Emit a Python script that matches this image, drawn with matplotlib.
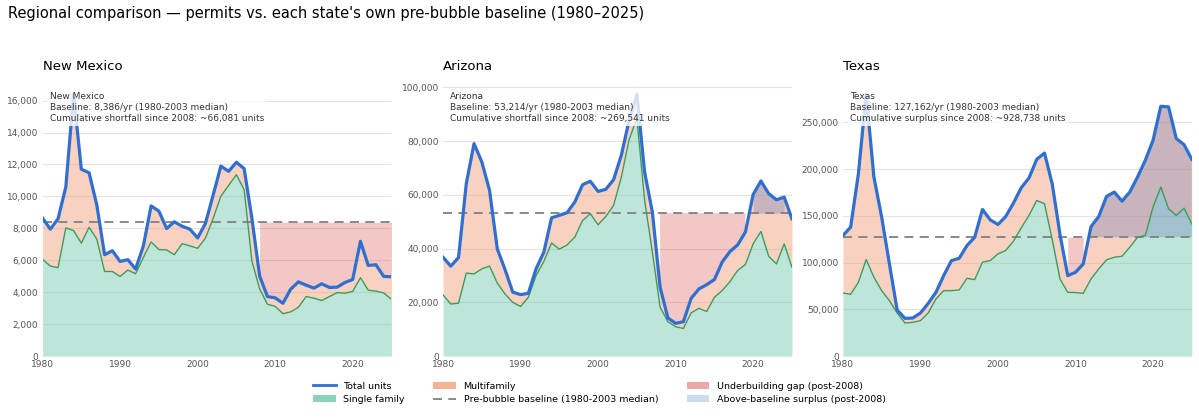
import numpy as np
import matplotlib
matplotlib.use("Agg")
import matplotlib.pyplot as plt
from matplotlib.ticker import FuncFormatter, MultipleLocator
from matplotlib.patches import Patch
from matplotlib.lines import Line2D

years = list(range(1980, 2026))
states = ["New Mexico", "Arizona", "Texas"]

nm_total = [8650, 7950, 8600, 10600, 16400, 11700, 11480, 9450, 6350, 6600,
            5930, 6040, 5450, 6900, 9410, 9080, 7990, 8410, 8130, 7950,
            7400, 8300, 10080, 11900, 11570, 12140, 11740, 8620, 5010, 3730,
            3650, 3310, 4190, 4650, 4440, 4260, 4530, 4300, 4320, 4610,
            4800, 7190, 5680, 5720, 4990, 4970]
nm_single = [6060, 5640, 5540, 8030, 7860, 7070, 8070, 7320, 5300, 5300,
             4990, 5390, 5160, 6180, 7150, 6670, 6650, 6350, 7040, 6900,
             6750, 7380, 8620, 10020, 10690, 11360, 10420, 5950, 4210, 3250,
             3120, 2660, 2770, 3060, 3730, 3630, 3480, 3730, 3980, 3940,
             4050, 4910, 4130, 4070, 3960, 3560]

az_total = [36800, 33500, 36700, 64200, 79100, 72300, 61700, 39900, 32200, 23800,
            22900, 23400, 32500, 38700, 51500, 52400, 53400, 57400, 63800, 65100,
            61300, 62100, 65700, 74800, 87800, 97500, 68500, 53600, 25600, 14200,
            12200, 12800, 21500, 25000, 26600, 28500, 35000, 38900, 41400, 46200,
            60200, 65200, 60500, 58200, 59200, 51100]
az_single = [22800, 19400, 19700, 30900, 30600, 32500, 33500, 27200, 23100, 20000,
             18500, 21900, 30000, 35200, 42100, 39800, 41400, 44300, 50500, 53000,
             48900, 52000, 56100, 66700, 80600, 88500, 58000, 38700, 18200, 12800,
             10950, 10300, 16100, 17800, 16600, 21900, 24400, 27700, 31900, 34100,
             41800, 46400, 37200, 34300, 41800, 33100]

tx_total = [128900, 137900, 195000, 280000, 191400, 148600, 98600, 49300, 40400, 40700,
            46100, 56400, 68200, 86100, 102100, 104600, 118200, 127100, 156800, 145700,
            140700, 149300, 163600, 180000, 190400, 210400, 217100, 184000, 130000, 86000,
            89600, 98600, 138500, 149300, 170700, 175400, 165700, 175400, 191400, 209300,
            230700, 267100, 266400, 232500, 226100, 210400]
tx_single = [67500, 66100, 78900, 103200, 84300, 70000, 59300, 46100, 35400, 36100,
             37900, 46100, 61100, 70000, 70000, 70700, 83200, 81800, 100400, 102100,
             109300, 112900, 122900, 137100, 150400, 166400, 162900, 124600, 82500, 68200,
             68000, 67100, 82500, 93200, 102900, 105700, 106800, 116400, 127100, 128900,
             159300, 180700, 157500, 150400, 158200, 141400]

baselines = [8386, 53214, 127162]
notes = [
    "New Mexico\nBaseline: 8,386/yr (1980-2003 median)\nCumulative shortfall since 2008: ~66,081 units",
    "Arizona\nBaseline: 53,214/yr (1980-2003 median)\nCumulative shortfall since 2008: ~269,541 units",
    "Texas\nBaseline: 127,162/yr (1980-2003 median)\nCumulative surplus since 2008: ~928,738 units",
]
y_steps = [2000, 20000, 50000]
post_start = 2008

totals = [nm_total, az_total, tx_total]
singles = [nm_single, az_single, tx_single]

C_TOTAL = "#2f6fcf"
C_SF_FILL = "#66c2a5"
C_SF_LINE = "#3a9d5d"
C_MF = "#f4a582"
C_GAP = "#d9534f"
C_SUR = "#6a7fb8"
C_BASE = "#808080"

fig = plt.figure(figsize=(11.99, 4.18), dpi=100)
lefts = [0.0355, 0.3695, 0.703]
axw, axb, axh = 0.291, 0.148, 0.658

fmt = FuncFormatter(lambda v, p: f"{int(v):,}")

for i, st in enumerate(states):
    ax = fig.add_axes([lefts[i], axb, axw, axh])
    x = np.array(years)
    tot = np.array(totals[i], dtype=float)
    sf = np.array(singles[i], dtype=float)
    base = baselines[i]

    ax.fill_between(x, 0, sf, color=C_SF_FILL, alpha=0.42, lw=0, zorder=1)
    ax.fill_between(x, sf, tot, color=C_MF, alpha=0.5, lw=0, zorder=1)
    post = x >= post_start
    xp, tp = x[post], tot[post]
    ax.fill_between(xp, tp, base, where=tp < base, color=C_GAP, alpha=0.32, lw=0, zorder=2)
    ax.fill_between(xp, base, tp, where=tp > base, color=C_SUR, alpha=0.35, lw=0, zorder=2)
    ax.axhline(base, color=C_BASE, lw=1.3, ls=(0, (5, 3.5)), zorder=3)
    ax.plot(x, sf, color=C_SF_LINE, lw=1.0, zorder=4)
    ax.plot(x, tot, color=C_TOTAL, lw=2.3, zorder=5)

    ax.set_xlim(1980, 2025)
    ax.set_ylim(0, tot.max() * 1.05)
    ax.yaxis.set_major_locator(MultipleLocator(y_steps[i]))
    ax.yaxis.set_major_formatter(fmt)
    ax.xaxis.set_major_locator(MultipleLocator(10))
    ax.grid(axis="y", color="#e3e3e3", lw=0.8, zorder=0)
    ax.set_axisbelow(True)
    for s in ax.spines.values():
        s.set_visible(False)
    ax.tick_params(axis="y", length=0, labelsize=6.5, labelcolor="#555555", pad=3)
    ax.tick_params(axis="x", length=0, labelsize=6.5, labelcolor="#555555", pad=3)
    ax.set_title(st, loc="left", fontsize=9.5, pad=8)
    ax.text(0.02, 0.96, notes[i], transform=ax.transAxes, ha="left", va="top",
            fontsize=6.5, color="#333333", linespacing=1.3, zorder=10,
            bbox=dict(boxstyle="square,pad=0.25", fc="white", ec="none", alpha=0.8))

fig.text(0.007, 0.985, "Regional comparison \u2014 permits vs. each state's own pre-bubble baseline (1980\u20132025)",
         ha="left", va="top", fontsize=10.5)

handles = [
    Line2D([], [], color=C_TOTAL, lw=2.0, label="Total units"),
    Patch(facecolor=C_SF_FILL, alpha=0.75, label="Single family"),
    Patch(facecolor=C_MF, alpha=0.85, label="Multifamily"),
    Line2D([], [], color=C_BASE, lw=1.3, ls=(0, (5, 3.5)), label="Pre-bubble baseline (1980-2003 median)"),
    Patch(facecolor=C_GAP, alpha=0.5, label="Underbuilding gap (post-2008)"),
    Patch(facecolor="#6b9bd2", alpha=0.35, label="Above-baseline surplus (post-2008)"),
]
fig.legend(handles=handles, loc="center", bbox_to_anchor=(0.5, 0.06), ncol=3,
           frameon=False, fontsize=6.8, columnspacing=3.0, handlelength=2.4,
           handletextpad=0.8, labelspacing=0.45)

fig.savefig("out.png", dpi=100)
